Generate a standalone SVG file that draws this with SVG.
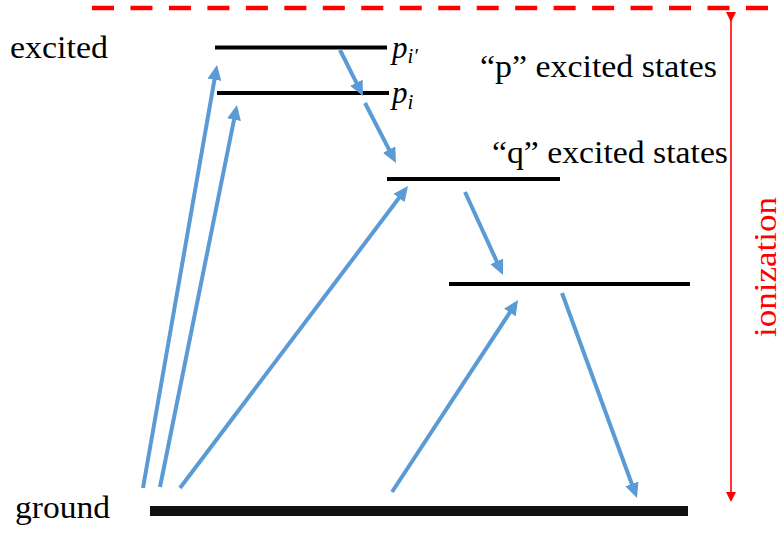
<svg xmlns="http://www.w3.org/2000/svg" width="784" height="533" viewBox="0 0 784 533">
  <style>
    .lbl { font-family: "Liberation Serif", "DejaVu Serif", serif; font-size: 31px; fill: #000; }
    .math { font-family: "Liberation Serif", "DejaVu Serif", serif; font-style: italic; fill: #000; }
    .lvl { stroke: #000; stroke-width: 4; fill: none; }
    .arr { stroke: #5B9BD5; stroke-width: 4; fill: none; marker-end: url(#blueHead); }
  </style>
  <defs>
    <marker id="blueHead" viewBox="0 0 15 14" refX="4" refY="7" markerUnits="userSpaceOnUse" markerWidth="15" markerHeight="14" orient="auto">
      <path d="M0,0 L15,7 L0,14 z" fill="#5B9BD5"/>
    </marker>
    <marker id="redHead" viewBox="0 0 10 10" refX="8" refY="5" markerUnits="userSpaceOnUse" markerWidth="10" markerHeight="10" orient="auto">
      <path d="M0,0 L10,5 L0,10 z" fill="#FF0000"/>
    </marker>
  </defs>

  <g id="ionization-limit">
    <line x1="92" y1="8" x2="768" y2="8" stroke="#FF0000" stroke-width="4.5" stroke-dasharray="22 16.47"/>
  </g>

  <g id="ionization-arrow">
    <line x1="731" y1="20" x2="731" y2="500" stroke="#FF0000" stroke-width="1.6" marker-start="url(#redHead)" marker-end="url(#redHead)"/>
    <text class="lbl" transform="translate(776,337) rotate(-90)" style="fill:#FF0000" font-size="28" textLength="140" lengthAdjust="spacingAndGlyphs">ionization</text>
  </g>

  <g id="level-pi-prime">
    <line class="lvl" x1="215" y1="47.5" x2="387" y2="47.5"/>
    <text class="math" x="392" y="58" font-size="31">p<tspan font-size="21" dy="5">i′</tspan></text>
  </g>

  <g id="level-pi">
    <line class="lvl" x1="217" y1="93" x2="389" y2="93"/>
    <text class="math" x="392" y="103" font-size="31">p<tspan font-size="21" dy="6">i</tspan></text>
  </g>

  <g id="p-states-label">
    <text class="lbl" x="480" y="77" textLength="237" lengthAdjust="spacingAndGlyphs">“p” excited states</text>
  </g>

  <g id="level-q1">
    <line class="lvl" x1="387" y1="179" x2="560" y2="179"/>
    <text class="lbl" x="492" y="163" textLength="236" lengthAdjust="spacingAndGlyphs">“q” excited states</text>
  </g>

  <g id="level-q2">
    <line class="lvl" x1="449" y1="284" x2="690" y2="284"/>
  </g>

  <g id="level-ground">
    <line x1="150" y1="511" x2="688" y2="511" stroke="#111" stroke-width="10"/>
    <text class="lbl" x="15" y="518" textLength="95" lengthAdjust="spacingAndGlyphs">ground</text>
  </g>

  <g id="excited-label">
    <text class="lbl" x="10" y="58" textLength="98" lengthAdjust="spacingAndGlyphs">excited</text>
  </g>

  <g id="connectors">
    <line class="arr" x1="143" y1="488" x2="215.1" y2="75.8"/>
    <line class="arr" x1="160" y1="487" x2="234.8" y2="115.8"/>
    <line class="arr" x1="180" y1="488" x2="401.4" y2="194.8"/>
    <line class="arr" x1="392" y1="492" x2="512.0" y2="309.2"/>
    <line class="arr" x1="340" y1="50" x2="358.1" y2="86.2"/>
    <line class="arr" x1="365" y1="103" x2="390.9" y2="153.2"/>
    <line class="arr" x1="465" y1="192" x2="498.4" y2="265"/>
    <line class="arr" x1="562" y1="293" x2="633.2" y2="487.7"/>
  </g>
</svg>
